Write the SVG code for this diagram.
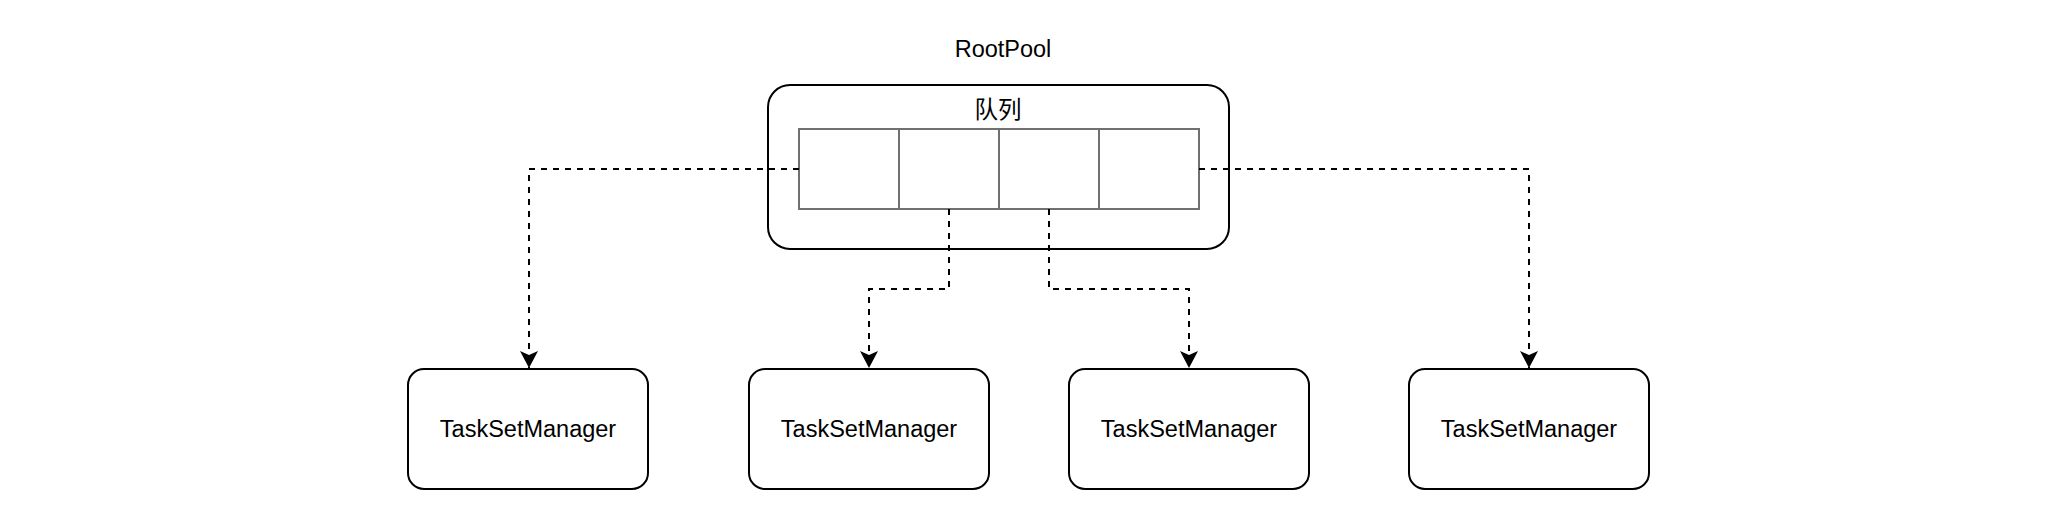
<svg xmlns="http://www.w3.org/2000/svg" width="2068" height="528" viewBox="0 0 2068 528">
<style>
.bg{fill:#ffffff}
.box{fill:#ffffff;stroke:#000000;stroke-width:2}
.cell{fill:#ffffff;stroke:#707070;stroke-width:2}
.lbl{font-family:"Liberation Sans",Arial,"Noto Sans CJK SC",sans-serif;font-size:23.5px;fill:#000000;text-anchor:middle}
.conn{fill:none;stroke:#000000;stroke-width:2;stroke-dasharray:6 6;marker-end:url(#arrow)}
</style>
<defs>
<marker id="arrow" viewBox="0 0 17 18" refX="17" refY="9" markerWidth="17" markerHeight="18" markerUnits="userSpaceOnUse" orient="auto">
<path d="M0,0 L17,9 L0,18 L4,9 Z" fill="#000000"/>
</marker>
</defs>
<rect class="bg" x="0" y="0" width="2068" height="528"/>
<g id="rootpool">
<text class="lbl" x="1003" y="57">RootPool</text>
<rect class="box" x="768" y="85" width="461" height="164" rx="22" ry="22"/>
<text class="lbl" x="998" y="118">队列</text>
</g>
<g id="queue">
<rect class="cell" x="799" y="129" width="100" height="80"/>
<rect class="cell" x="899" y="129" width="100" height="80"/>
<rect class="cell" x="999" y="129" width="100" height="80"/>
<rect class="cell" x="1099" y="129" width="100" height="80"/>
</g>
<g id="connectors">
<path class="conn" d="M799,169 L529,169 L529,368"/>
<path class="conn" d="M949,209 L949,289 L869,289 L869,368"/>
<path class="conn" d="M1049,209 L1049,289 L1189,289 L1189,368"/>
<path class="conn" d="M1199,169 L1529,169 L1529,368"/>
</g>
<g id="tsm1">
<rect class="box" x="408" y="369" width="240" height="120" rx="16" ry="16"/>
<text class="lbl" x="528" y="437">TaskSetManager</text>
</g>
<g id="tsm2">
<rect class="box" x="749" y="369" width="240" height="120" rx="16" ry="16"/>
<text class="lbl" x="869" y="437">TaskSetManager</text>
</g>
<g id="tsm3">
<rect class="box" x="1069" y="369" width="240" height="120" rx="16" ry="16"/>
<text class="lbl" x="1189" y="437">TaskSetManager</text>
</g>
<g id="tsm4">
<rect class="box" x="1409" y="369" width="240" height="120" rx="16" ry="16"/>
<text class="lbl" x="1529" y="437">TaskSetManager</text>
</g>
</svg>
